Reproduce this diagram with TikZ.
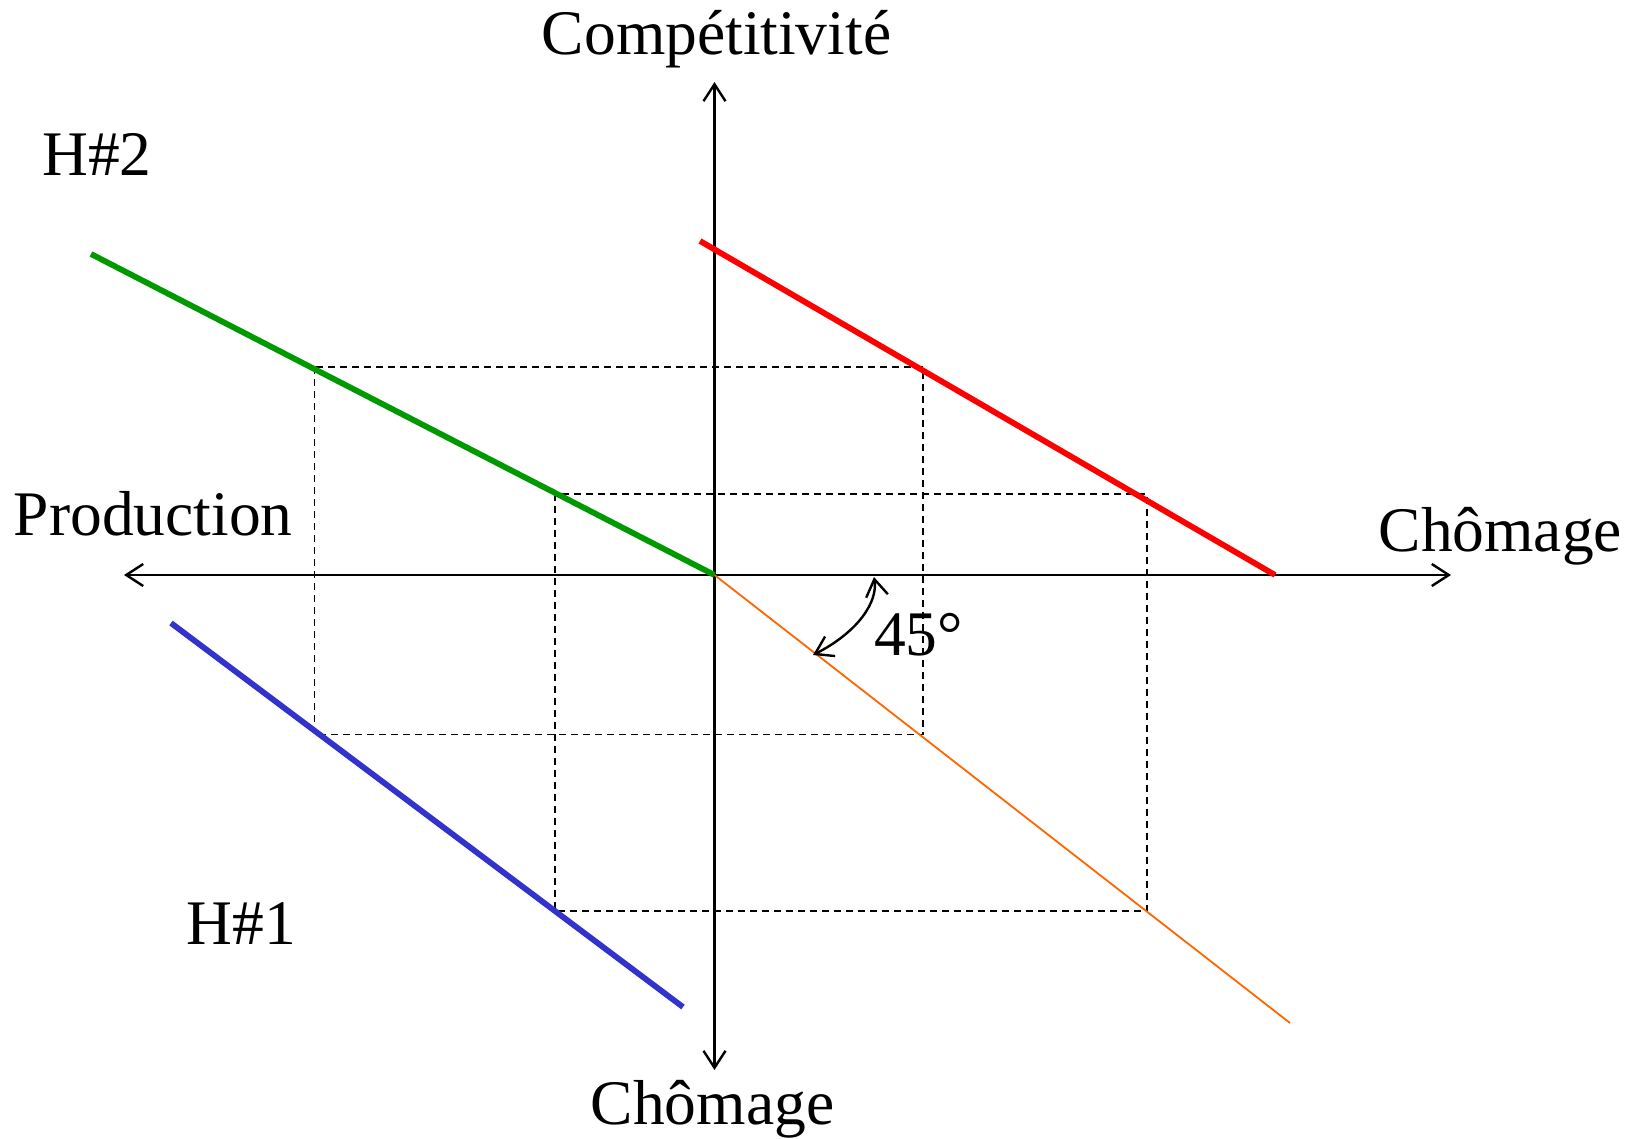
\documentclass[tikz,border=0pt]{standalone}
\usepackage{fontspec}
\setmainfont{Liberation Serif}
\usetikzlibrary{arrows.meta}
\definecolor{cgreen}{RGB}{0,153,0}
\definecolor{cred}{RGB}{255,0,0}
\definecolor{cblue}{RGB}{51,51,204}
\definecolor{corange}{RGB}{255,102,0}
\tikzset{
  axisline/.style={line width=2.4pt, black, arrows={-Straight Barb[length=17pt,width=22pt,line width=2.4pt]}},
  curve/.style={line width=5.8pt},
  guide/.style={line width=1.8pt, dash pattern=on 7pt off 5pt},
  lbl/.style={inner sep=0pt, anchor=base west, font=\fontsize{63.5}{70}\selectfont},
}
\begin{document}
\begin{tikzpicture}[x=1pt,y=-1pt]
\useasboundingbox (0,0) rectangle (1645,1139);
% coordinates
\coordinate (O) at (714.5,575);
\coordinate (top) at (714.5,82);
\coordinate (bot) at (714.5,1070);
\coordinate (left) at (124,575);
\coordinate (right) at (1451,575);
\coordinate (g1) at (91,254);
\coordinate (r1) at (700,241);
\coordinate (r2) at (1275,575);
\coordinate (b1) at (171,623);
\coordinate (b2) at (683,1007);
\coordinate (o2) at (1290,1023);
\coordinate (a1) at (874,577);
\coordinate (a2) at (813,655);
% dashed guides
\draw[guide] (314.5,367) rectangle (923,734.5);
\draw[guide] (555,494) rectangle (1147,911);
% axes
\draw[axisline] (O) -- (top);
\draw[axisline] (O) -- (bot);
\draw[axisline] (O) -- (left);
\draw[axisline] (O) -- (right);
% lines
\draw[corange, line width=1.8pt] (O) -- (o2);
\draw[curve, cgreen] (g1) -- (O);
\draw[curve, cred] (r1) -- (r2);
\draw[curve, cblue] (b1) -- (b2);
% angle arrow
\draw[line width=2.4pt, arrows={Straight Barb[length=17pt,width=22pt,line width=2.4pt]-Straight Barb[length=17pt,width=22pt,line width=2.4pt]}]
  (a1) .. controls (878,602) and (858,632) .. (a2);
% labels
\node[lbl, anchor=base] (tcomp) at (716.5,54.6) {Compétitivité};
\node[lbl] (th2) at (42,176) {H\#2};
\node[lbl] (tprod) at (13.6,535) {Production};
\node[lbl] (tchr) at (1378.5,551) {Chômage};
\node[lbl, anchor=base] (tchb) at (712.5,1124.6) {Chômage};
\node[lbl] (th1) at (186.7,944) {H\#1};
\node[lbl] (tdeg) at (874,655.7) {45°};
\end{tikzpicture}
\end{document}
